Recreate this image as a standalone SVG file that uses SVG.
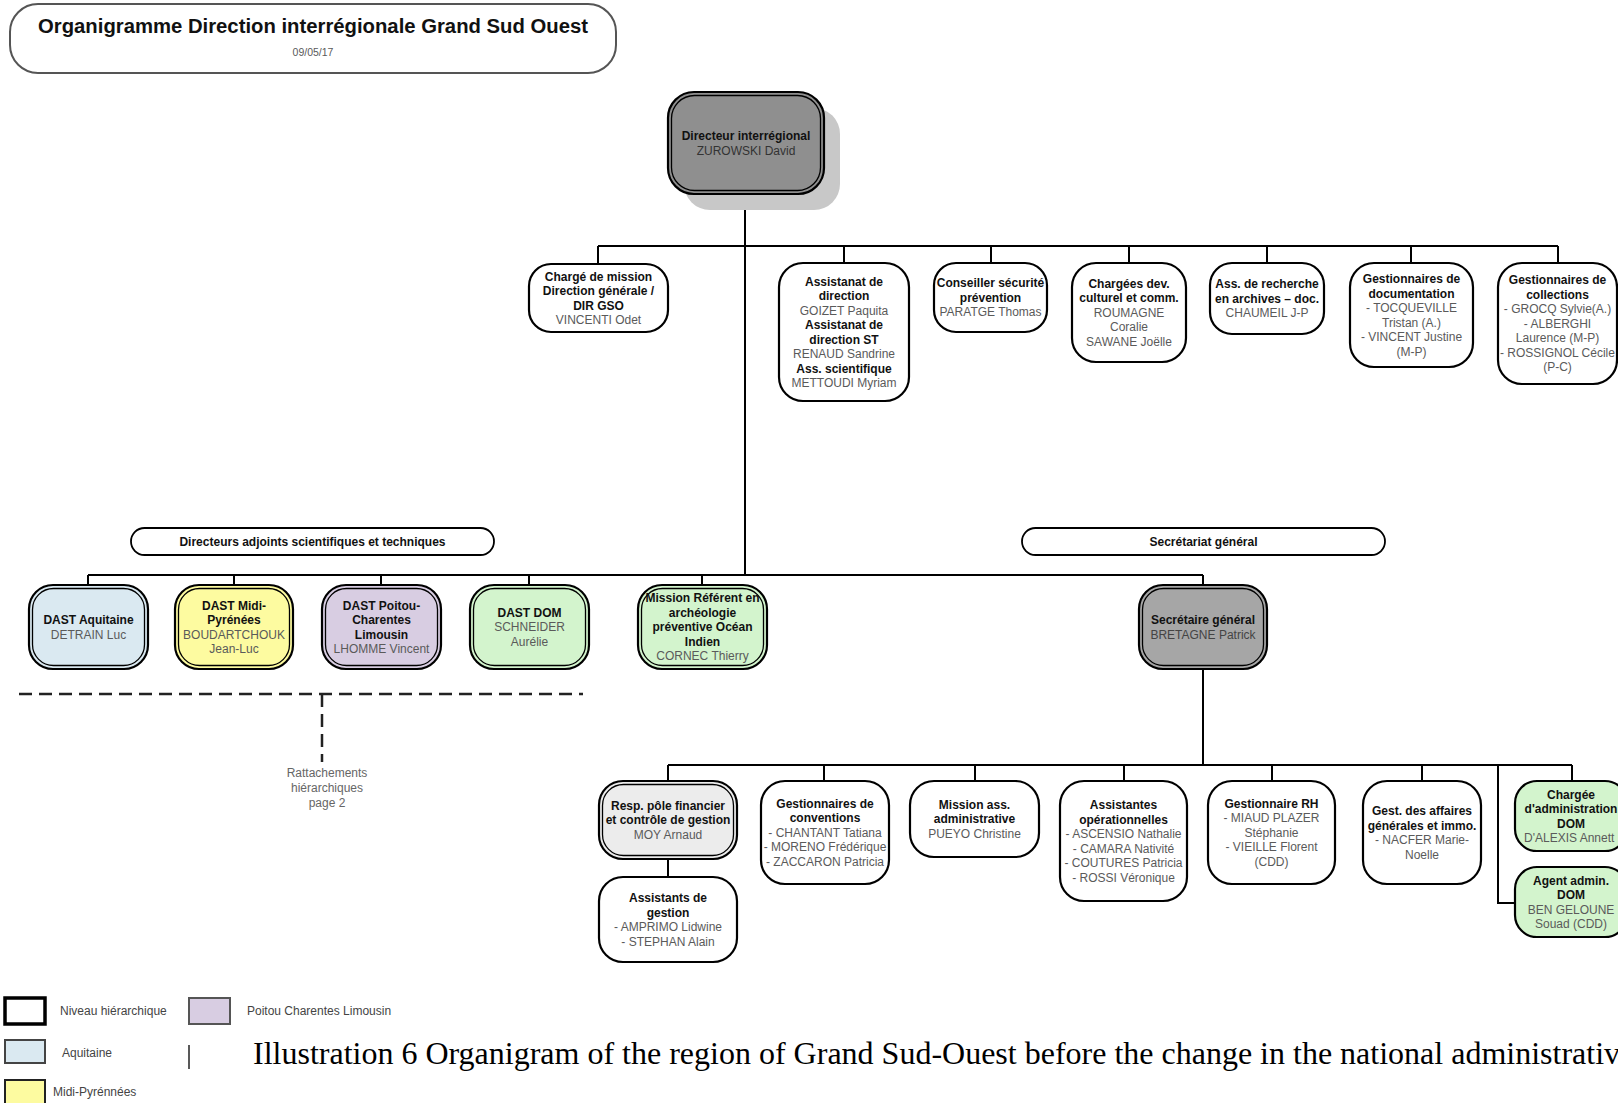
<svg xmlns="http://www.w3.org/2000/svg" width="1618" height="1103" viewBox="0 0 1618 1103">
<style>
.box{fill:#fff;stroke:#000;stroke-width:2.2}
.inner{fill:none;stroke:#000;stroke-width:1.3}
.t{font-family:"Liberation Sans",Arial,sans-serif;font-size:12px;font-weight:bold;text-anchor:middle;fill:#111}
.n{font-weight:normal;fill:#5a5a5a}
.conn{stroke:#000;stroke-width:2;fill:none}
.dash{stroke:#222;stroke-width:2.5;fill:none;stroke-dasharray:13 7}
.leg{font-family:"Liberation Sans",Arial,sans-serif;font-size:12px;fill:#444}
.aq{fill:#dae9f1}.mp{fill:#fdfba0}.pc{fill:#d8cde2}.dom{fill:#d3f4cd}
</style>

<g id="title">
<rect x="10" y="4" width="606" height="69" rx="28" fill="#fff" stroke="#555" stroke-width="2"/>
<text x="313" y="33" class="t" style="font-size:20.3px">Organigramme Direction interrégionale Grand Sud Ouest</text>
<text x="313" y="56" class="t n" style="font-size:10.5px">09/05/17</text>
</g>

<g id="connectors">
<path class="conn" d="M745 194V575"/>
<path class="conn" d="M598 246H1558M598 246V264M844 246V263M991 246V263M1129 246V263M1267 246V263M1411 246V263M1558 246V263"/>
<path class="conn" d="M88 575H1203M88 575V585M234 575V585M381 575V585M529 575V585M702 575V585M1203 575V585"/>
<path class="conn" d="M1203 669V765M668 765H1572M668 765V781M824 765V781M975 765V781M1124 765V781M1272 765V781M1422 765V781M1572 765V781"/>
<path class="conn" d="M1498 765V903H1515"/>
<path class="conn" d="M668 859V877"/>
<path class="dash" d="M19 694H583M322 694V762"/>
</g>

<g id="director">
<rect x="684" y="108" width="156" height="102" rx="26" fill="#c8c8c8"/>
<rect class="box" x="668" y="92" width="156" height="102" rx="26" style="fill:#8f8f8f"/>
<rect class="inner" x="671.5" y="95.5" width="149" height="95" rx="23"/>
<text class="t" x="746" y="140">Directeur interrégional</text>
<text class="t n" x="746" y="154.5" style="fill:#333">ZUROWSKI David</text>
</g>

<g id="charge-mission">
<rect class="box" x="529" y="264" width="139" height="68" rx="22"/>
<text class="t" x="598.5" y="280.5">Chargé de mission</text>
<text class="t" x="598.5" y="295">Direction générale /</text>
<text class="t" x="598.5" y="309.5">DIR GSO</text>
<text class="t n" x="598.5" y="324">VINCENTI Odet</text>
</g>

<g id="assistanat">
<rect class="box" x="779" y="263" width="130" height="138" rx="24"/>
<text class="t" x="844" y="285.5">Assistanat de</text>
<text class="t" x="844" y="300">direction</text>
<text class="t n" x="844" y="314.5">GOIZET Paquita</text>
<text class="t" x="844" y="329">Assistanat de</text>
<text class="t" x="844" y="343.5">direction ST</text>
<text class="t n" x="844" y="358">RENAUD Sandrine</text>
<text class="t" x="844" y="372.5">Ass. scientifique</text>
<text class="t n" x="844" y="387">METTOUDI Myriam</text>
</g>

<g id="conseiller">
<rect class="box" x="934" y="263" width="113" height="69" rx="22"/>
<text class="t" x="990.5" y="287.3">Conseiller sécurité</text>
<text class="t" x="990.5" y="301.8">prévention</text>
<text class="t n" x="990.5" y="316.3">PARATGE Thomas</text>
</g>

<g id="chargees-dev">
<rect class="box" x="1072" y="263" width="114" height="99" rx="24"/>
<text class="t" x="1129" y="287.8">Chargées dev.</text>
<text class="t" x="1129" y="302.3">culturel et comm.</text>
<text class="t n" x="1129" y="316.8">ROUMAGNE</text>
<text class="t n" x="1129" y="331.3">Coralie</text>
<text class="t n" x="1129" y="345.8">SAWANE Joëlle</text>
</g>

<g id="ass-recherche">
<rect class="box" x="1210" y="263" width="114" height="71" rx="22"/>
<text class="t" x="1267" y="288.3">Ass. de recherche</text>
<text class="t" x="1267" y="302.8">en archives – doc.</text>
<text class="t n" x="1267" y="317.3">CHAUMEIL J-P</text>
</g>

<g id="gest-doc">
<rect class="box" x="1350" y="263" width="123" height="104" rx="24"/>
<text class="t" x="1411.5" y="283">Gestionnaires de</text>
<text class="t" x="1411.5" y="297.5">documentation</text>
<text class="t n" x="1411.5" y="312">- TOCQUEVILLE</text>
<text class="t n" x="1411.5" y="326.5">Tristan (A.)</text>
<text class="t n" x="1411.5" y="341">- VINCENT Justine</text>
<text class="t n" x="1411.5" y="355.5">(M-P)</text>
</g>

<g id="gest-coll">
<rect class="box" x="1498" y="263" width="119" height="121" rx="24"/>
<text class="t" x="1557.5" y="284.3">Gestionnaires de</text>
<text class="t" x="1557.5" y="298.8">collections</text>
<text class="t n" x="1557.5" y="313.3">- GROCQ Sylvie(A.)</text>
<text class="t n" x="1557.5" y="327.8">- ALBERGHI</text>
<text class="t n" x="1557.5" y="342.3">Laurence (M-P)</text>
<text class="t n" x="1557.5" y="356.8">- ROSSIGNOL Cécile</text>
<text class="t n" x="1557.5" y="371.3">(P-C)</text>
</g>

<g id="pill-dast">
<rect x="131" y="528" width="363" height="27" rx="13.5" fill="#fff" stroke="#000" stroke-width="1.8"/>
<text class="t" x="312.5" y="545.8">Directeurs adjoints scientifiques et techniques</text>
</g>

<g id="pill-sg">
<rect x="1022" y="528" width="363" height="27" rx="13.5" fill="#fff" stroke="#000" stroke-width="1.8"/>
<text class="t" x="1203.5" y="545.8">Secrétariat général</text>
</g>

<g id="dast-aquitaine">
<rect class="box aq" x="29" y="585" width="119" height="84" rx="24"/>
<rect class="inner" x="32.5" y="588.5" width="112" height="77" rx="21"/>
<text class="t" x="88.5" y="624">DAST Aquitaine</text>
<text class="t n" x="88.5" y="638.5">DETRAIN Luc</text>
</g>

<g id="dast-midi">
<rect class="box mp" x="175" y="585" width="118" height="84" rx="24"/>
<rect class="inner" x="178.5" y="588.5" width="111" height="77" rx="21"/>
<text class="t" x="234" y="609.5">DAST Midi-</text>
<text class="t" x="234" y="624">Pyrénées</text>
<text class="t n" x="234" y="638.5">BOUDARTCHOUK</text>
<text class="t n" x="234" y="653">Jean-Luc</text>
</g>

<g id="dast-poitou">
<rect class="box pc" x="322" y="585" width="119" height="84" rx="24"/>
<rect class="inner" x="325.5" y="588.5" width="112" height="77" rx="21"/>
<text class="t" x="381.5" y="609.5">DAST Poitou-</text>
<text class="t" x="381.5" y="624">Charentes</text>
<text class="t" x="381.5" y="638.5">Limousin</text>
<text class="t n" x="381.5" y="653">LHOMME Vincent</text>
</g>

<g id="dast-dom">
<rect class="box dom" x="470" y="585" width="119" height="84" rx="24"/>
<rect class="inner" x="473.5" y="588.5" width="112" height="77" rx="21"/>
<text class="t" x="529.5" y="616.8">DAST DOM</text>
<text class="t n" x="529.5" y="631.3">SCHNEIDER</text>
<text class="t n" x="529.5" y="645.8">Aurélie</text>
</g>

<g id="mission-referent">
<rect class="box dom" x="638" y="585" width="129" height="84" rx="24"/>
<rect class="inner" x="641.5" y="588.5" width="122" height="77" rx="21"/>
<text class="t" x="702.5" y="602.3">Mission Référent en</text>
<text class="t" x="702.5" y="616.8">archéologie</text>
<text class="t" x="702.5" y="631.3">préventive Océan</text>
<text class="t" x="702.5" y="645.8">Indien</text>
<text class="t n" x="702.5" y="660.3">CORNEC Thierry</text>
</g>

<g id="secretaire-general">
<rect class="box" x="1139" y="585" width="128" height="84" rx="24" style="fill:#a6a6a6"/>
<rect class="inner" x="1142.5" y="588.5" width="121" height="77" rx="21"/>
<text class="t" x="1203" y="624">Secrétaire général</text>
<text class="t n" x="1203" y="638.5" style="fill:#444">BRETAGNE Patrick</text>
</g>

<g id="rattachements">
<text class="t n" x="327" y="777" style="fill:#666">Rattachements</text>
<text class="t n" x="327" y="792" style="fill:#666">hiérarchiques</text>
<text class="t n" x="327" y="807" style="fill:#666">page 2</text>
</g>

<g id="resp-pole">
<rect class="box" x="599" y="781" width="138" height="78" rx="24" style="fill:#ececec"/>
<rect class="inner" x="602.5" y="784.5" width="131" height="71" rx="21"/>
<text class="t" x="668" y="809.8">Resp. pôle financier</text>
<text class="t" x="668" y="824.3">et contrôle de gestion</text>
<text class="t n" x="668" y="838.8">MOY Arnaud</text>
</g>

<g id="assistants-gestion">
<rect class="box" x="599" y="877" width="138" height="85" rx="24"/>
<text class="t" x="668" y="902">Assistants de</text>
<text class="t" x="668" y="916.5">gestion</text>
<text class="t n" x="668" y="931">- AMPRIMO Lidwine</text>
<text class="t n" x="668" y="945.5">- STEPHAN Alain</text>
</g>

<g id="gest-conventions">
<rect class="box" x="761" y="781" width="128" height="103" rx="24"/>
<text class="t" x="825" y="807.8">Gestionnaires de</text>
<text class="t" x="825" y="822.3">conventions</text>
<text class="t n" x="825" y="836.8">- CHANTANT Tatiana</text>
<text class="t n" x="825" y="851.3">- MORENO Frédérique</text>
<text class="t n" x="825" y="865.8">- ZACCARON Patricia</text>
</g>

<g id="mission-ass">
<rect class="box" x="910" y="781" width="129" height="76" rx="24"/>
<text class="t" x="974.5" y="808.8">Mission ass.</text>
<text class="t" x="974.5" y="823.3">administrative</text>
<text class="t n" x="974.5" y="837.8">PUEYO Christine</text>
</g>

<g id="assistantes-op">
<rect class="box" x="1060" y="781" width="127" height="120" rx="24"/>
<text class="t" x="1123.5" y="809">Assistantes</text>
<text class="t" x="1123.5" y="823.5">opérationnelles</text>
<text class="t n" x="1123.5" y="838">- ASCENSIO Nathalie</text>
<text class="t n" x="1123.5" y="852.5">- CAMARA Nativité</text>
<text class="t n" x="1123.5" y="867">- COUTURES Patricia</text>
<text class="t n" x="1123.5" y="881.5">- ROSSI Véronique</text>
</g>

<g id="gest-rh">
<rect class="box" x="1208" y="781" width="127" height="103" rx="24"/>
<text class="t" x="1271.5" y="807.8">Gestionnaire RH</text>
<text class="t n" x="1271.5" y="822.3">- MIAUD PLAZER</text>
<text class="t n" x="1271.5" y="836.8">Stéphanie</text>
<text class="t n" x="1271.5" y="851.3">- VIEILLE Florent</text>
<text class="t n" x="1271.5" y="865.8">(CDD)</text>
</g>

<g id="gest-affaires">
<rect class="box" x="1363" y="781" width="118" height="103" rx="24"/>
<text class="t" x="1422" y="815">Gest. des affaires</text>
<text class="t" x="1422" y="829.5">générales et immo.</text>
<text class="t n" x="1422" y="844">- NACFER Marie-</text>
<text class="t n" x="1422" y="858.5">Noelle</text>
</g>

<g id="chargee-admin-dom">
<rect class="box dom" x="1515" y="781" width="112" height="70" rx="22"/>
<text class="t" x="1571" y="798.5">Chargée</text>
<text class="t" x="1571" y="813">d'administration</text>
<text class="t" x="1571" y="827.5">DOM</text>
<text class="t n" x="1524" y="842" style="text-anchor:start">D'ALEXIS Annett</text>
</g>

<g id="agent-admin-dom">
<rect class="box dom" x="1515" y="867" width="112" height="70" rx="22"/>
<text class="t" x="1571" y="884.5">Agent admin.</text>
<text class="t" x="1571" y="899">DOM</text>
<text class="t n" x="1571" y="913.5">BEN GELOUNE</text>
<text class="t n" x="1571" y="928">Souad (CDD)</text>
</g>

<g id="legend">
<rect x="5" y="998" width="40" height="26" fill="#fff" stroke="#000" stroke-width="3.5"/>
<text class="leg" x="60" y="1015">Niveau hiérarchique</text>
<rect x="189" y="998" width="41" height="26" fill="#d8cde2" stroke="#555" stroke-width="2"/>
<text class="leg" x="247" y="1015">Poitou Charentes Limousin</text>
<rect x="5" y="1040" width="40" height="23" fill="#dae9f1" stroke="#444" stroke-width="2"/>
<text class="leg" x="62" y="1057">Aquitaine</text>
<rect x="5" y="1080" width="40" height="30" fill="#fdfba0" stroke="#222" stroke-width="2"/>
<text class="leg" x="53" y="1096">Midi-Pyrénnées</text>
<path d="M189 1045V1069" stroke="#222" stroke-width="1.5"/>
<text x="253" y="1064" font-family="'Liberation Serif','Times New Roman',serif" font-size="32" fill="#000">Illustration 6 Organigram of the region of Grand Sud-Ouest before the change in the national administrativ</text>
</g>
</svg>
